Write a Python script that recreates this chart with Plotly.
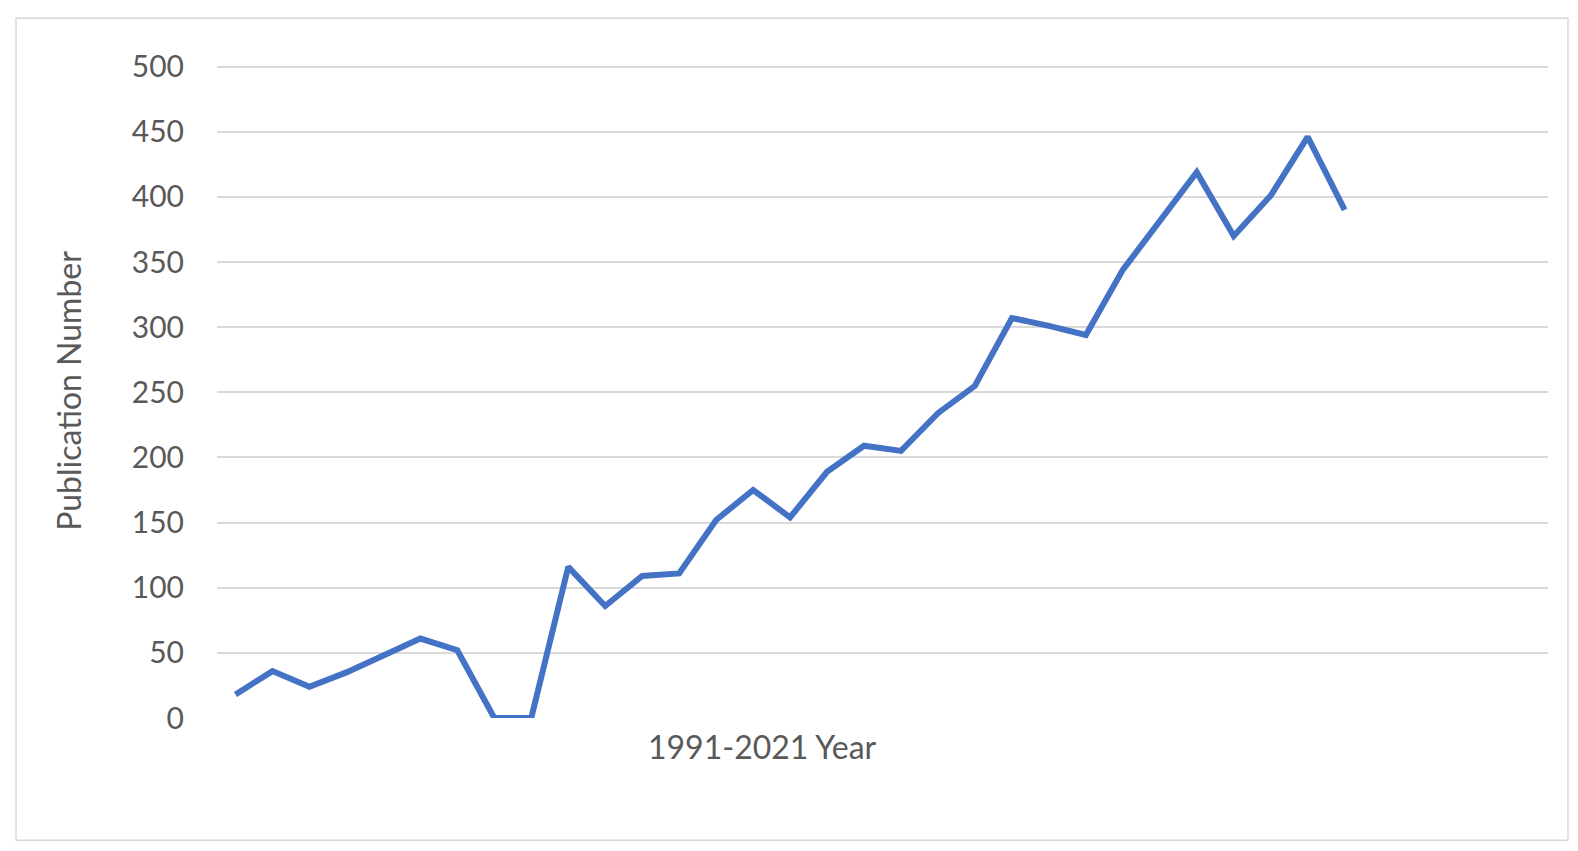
import plotly.graph_objects as go

# Publications per year, 1991-2021
years = list(range(1991, 2022))
counts = [18, 36, 24, 35, 48, 61, 52, 0, 0, 116, 86, 109, 111, 152, 175, 154,
          189, 209, 205, 234, 255, 307, 301, 294, 344, 381, 419, 370, 401, 446, 390]
y_ticks = [0, 50, 100, 150, 200, 250, 300, 350, 400, 450, 500]

x_idx = list(range(1, len(years) + 1))

fig = go.Figure()
fig.add_trace(go.Scatter(
    x=x_idx, y=counts, mode='lines',
    line=dict(color='#4472C4', width=6),
    customdata=years,
    hovertemplate='%{customdata}: %{y}<extra></extra>',
    showlegend=False
))

fig.update_layout(
    width=1578, height=851,
    margin=dict(l=209, r=38, t=56, b=141),
    plot_bgcolor='white', paper_bgcolor='white',
    font=dict(family='Lato, Open Sans, sans-serif', color='#595959'),
    xaxis=dict(range=[0.5, 36.5], showgrid=False, zeroline=False,
               showticklabels=False, showline=False),
    yaxis=dict(range=[0, 502], tickvals=y_ticks, showgrid=True,
               gridcolor='#d9d9d9', gridwidth=2, zeroline=False,
               tickfont=dict(size=30, color='#595959'), ticks='',
               ticklabelstandoff=32,
               title=dict(text='Publication Number', font=dict(size=32, color='#595959'),
                          standoff=40)),
    annotations=[dict(text='1991-2021 Year', xref='paper', yref='paper',
                      x=0.41, y=-0.077, showarrow=False,
                      font=dict(size=32, color='#595959'))],
    shapes=[dict(type='rect', xref='paper', yref='paper',
                 x0=-0.151, x1=1.015, y0=-0.187, y1=1.070,
                 line=dict(color='#d9d9d9', width=1.5))]
)

fig.write_html("out.html")
